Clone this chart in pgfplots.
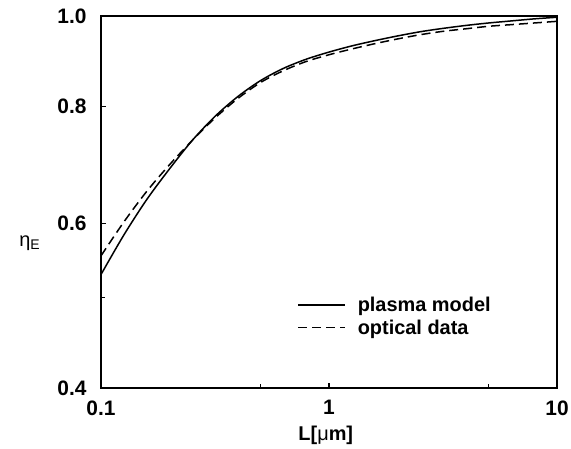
\documentclass[border=0pt]{standalone}
\usepackage{fontspec}
\setmainfont{Liberation Sans}
\usepackage{pgfplots}
\pgfplotsset{compat=1.18}
\begin{document}
\begin{tikzpicture}
\useasboundingbox (-101bp,-61bp) rectangle (470bp,388bp);
\begin{axis}[
  at={(0,0)}, anchor=south west,
  scale only axis, width=456bp, height=372bp,
  xmode=log, ymode=log,
  xmin=0.1, xmax=10, ymin=0.4, ymax=1.0,
  xtick={0.1,1,10}, xticklabels={0.1,1,10},
  minor xtick={0.5,5},
  ytick={0.4,0.6,0.8,1.0}, yticklabels={0.4,0.6,0.8,1.0},
  minor ytick={0.5},
  tick pos=left, tick align=inside,
  major tick length=5.5bp, minor tick length=4bp,
  axis line style={line width=1.6bp},
  every tick/.style={line width=1.2bp, black},
  /pgf/number format/assume math mode=true,
  ticklabel style={font=\bfseries\fontsize{21}{24}\selectfont},
  xticklabel style={yshift=-9bp},
  yticklabel style={xshift=-11bp},
  xlabel={L[{\mdseries μ}m]},
  xlabel style={font=\bfseries\fontsize{20}{24}\selectfont,
    at={(axis description cs:0.493,0)}, anchor=center, yshift=-47bp},
  ylabel={η\textsubscript{E}},
  ylabel style={font=\fontsize{20}{24}\selectfont, rotate=-90,
    at={(axis description cs:-0.156,0.39)}, anchor=center},
  legend style={draw=none, fill=none, inner sep=0pt,
    at={(axis description cs:0.43,0.251)}, anchor=north west,
    font=\bfseries\fontsize{20}{24}\selectfont, row sep=3bp},
  legend cell align=left,
  legend image code/.code={\draw[#1] (0bp,0bp) -- (47bp,0bp); \path (57bp,0bp);},
]
\addplot[black, line width=1.5bp, smooth] coordinates {
  (0.1,0.529) (0.1259,0.583) (0.1585,0.636) (0.1995,0.686) (0.2512,0.736)
  (0.3162,0.781) (0.3981,0.820) (0.5012,0.853) (0.631,0.879) (0.794,0.899)
  (1,0.915) (1.259,0.929) (1.585,0.941) (1.995,0.952) (2.512,0.962)
  (3.162,0.970) (3.981,0.977) (5.012,0.983) (6.31,0.988) (7.943,0.993)
  (10,0.997)
};
\addplot[black, line width=1.5bp, dash pattern=on 9bp off 5bp, smooth] coordinates {
  (0.1,0.554) (0.1259,0.602) (0.1585,0.649) (0.1995,0.693) (0.2512,0.736)
  (0.3162,0.778) (0.3981,0.816) (0.5012,0.849) (0.631,0.874) (0.794,0.894)
  (1,0.909) (1.259,0.922) (1.585,0.934) (1.995,0.945) (2.512,0.955)
  (3.162,0.963) (3.981,0.969) (5.012,0.975) (6.31,0.979) (7.943,0.983)
  (10,0.987)
};
\legend{plasma model, optical data}
\end{axis}
\end{tikzpicture}
\end{document}
